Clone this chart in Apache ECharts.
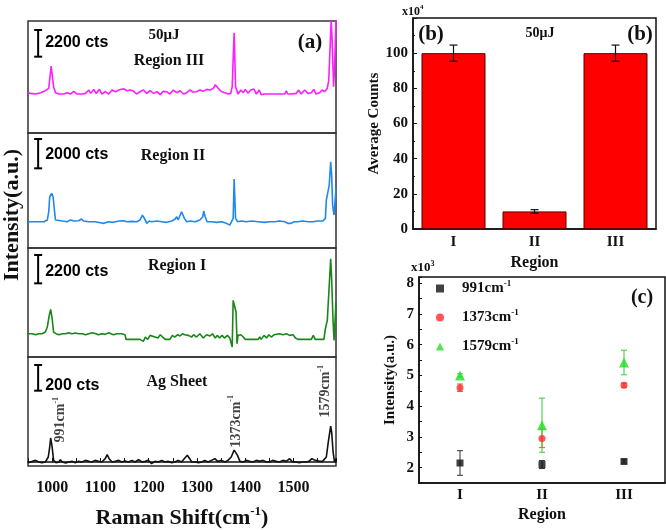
<!DOCTYPE html>
<html>
<head>
<meta charset="utf-8">
<script src="https://cdn.jsdelivr.net/npm/echarts@6/dist/echarts.min.js"></script>
<style>html,body{margin:0;padding:0;background:#fff}#main{width:666px;height:530px}</style>
</head>
<body>
<div id="main"></div>
<script>
// (a) spectra: Raman shift (cm-1) and counts relative to each trace's baseline
var shift3 = [950,955,966,976,986,993,998,1003,1007,1014,1024,1031,1038,1045,1052,1062,1069,1076,1080,1086,1091,1098,1103,1110,1117,1124,1131,1138,1148,1155,1162,1169,1175,1182,1189,1196,1203,1210,1217,1224,1230,1237,1244,1251,1258,1265,1272,1279,1285,1292,1299,1306,1313,1320,1327,1334,1338,1344,1351,1358,1365,1370,1373,1377,1380,1385,1391,1396,1400,1406,1411,1418,1423,1429,1433,1440,1451,1461,1475,1482,1485,1488,1495,1506,1510,1516,1523,1530,1537,1542,1547,1554,1559,1564,1570,1573,1577,1578,1580,1583,1585,1588];
var counts3 = [0,-55,-110,0,165,357,2200,495,0,-110,-110,0,-110,110,-110,-110,-55,220,-55,275,-55,275,-110,82,-110,220,82,220,330,165,220,110,-110,82,220,-55,165,-55,82,-165,110,82,-110,220,0,165,-110,0,220,55,82,220,110,275,220,357,660,357,82,0,-110,-55,495,4950,495,-110,220,0,275,-55,220,302,-110,220,-165,-110,-110,-110,-110,-110,165,-110,-110,-55,220,-110,220,-55,0,275,-110,0,220,82,357,1045,4895,6000,4345,495,2000,6000];

var shift2 = [950,959,972,983,990,993,995,999,1002,1005,1007,1010,1021,1031,1038,1041,1045,1055,1061,1065,1076,1089,1100,1107,1117,1127,1138,1148,1155,1165,1175,1182,1187,1189,1193,1196,1201,1206,1217,1227,1237,1248,1255,1258,1261,1265,1268,1271,1274,1279,1286,1296,1306,1312,1314,1317,1321,1330,1341,1351,1361,1368,1372,1375,1377,1380,1384,1392,1402,1413,1427,1440,1451,1461,1471,1482,1488,1492,1495,1501,1509,1519,1530,1540,1550,1561,1566,1568,1571,1574,1577,1579,1581,1584,1588];
var counts2 = [0,0,0,0,114,681,1702,1930,1702,681,114,0,45,0,114,227,45,68,182,45,0,0,-68,-114,0,-45,45,68,0,23,0,114,454,500,114,-114,45,0,45,0,-45,45,182,340,114,227,681,727,227,0,45,0,114,340,727,340,0,0,-45,0,-114,-227,-340,227,2906,227,0,45,0,45,0,-45,0,0,45,0,-114,-227,-114,0,0,45,0,0,45,45,227,1476,1589,2497,4086,3178,1135,454,2270];

var shift1 = [950,952,959,966,972,979,986,990,994,997,1000,1003,1008,1014,1021,1028,1034,1041,1048,1055,1062,1069,1076,1083,1086,1091,1096,1103,1110,1117,1122,1127,1134,1144,1151,1153,1162,1172,1182,1186,1189,1193,1198,1203,1206,1213,1219,1224,1234,1244,1249,1254,1260,1265,1270,1275,1282,1289,1293,1299,1306,1313,1320,1327,1332,1338,1342,1347,1352,1357,1363,1368,1371,1373,1375,1378,1381,1383,1385,1391,1396,1400,1406,1413,1420,1427,1430,1433,1439,1444,1449,1454,1460,1464,1471,1478,1485,1492,1499,1504,1509,1519,1530,1537,1541,1545,1550,1557,1563,1566,1570,1573,1577,1579,1582,1584,1588];
var counts1 = [0,-78,0,-78,0,0,130,518,1425,1891,1166,130,0,-78,0,0,78,0,52,0,0,-78,0,78,-26,0,-78,0,-52,78,0,-78,0,0,-78,-440,-440,-440,-440,-337,-596,-259,-440,-130,-78,-259,-337,-78,-440,-440,-130,-259,-78,-181,0,-78,-130,-259,-78,-259,0,-337,-78,-181,0,-337,-130,-337,-130,-337,-130,-337,-389,-1036,2590,2460,1684,-778,-130,-78,-259,-440,-440,-440,-440,-440,-259,-440,-130,-337,-78,-259,-78,-130,0,-78,0,-130,-78,-337,-440,-440,-440,-440,-130,-440,-440,-440,-440,389,1036,1036,5827,4273,907,-518,2460];

var shiftAg = [950,952,959,966,972,979,986,992,995,997,1000,1003,1008,1014,1017,1021,1028,1034,1041,1048,1055,1062,1069,1076,1082,1089,1096,1103,1110,1114,1118,1124,1131,1138,1144,1151,1158,1165,1172,1179,1186,1193,1199,1206,1213,1220,1227,1234,1240,1248,1254,1261,1268,1275,1280,1285,1289,1296,1303,1310,1316,1323,1330,1337,1343,1347,1351,1358,1364,1371,1377,1384,1389,1396,1402,1409,1416,1423,1430,1437,1444,1450,1457,1464,1471,1478,1485,1492,1498,1505,1512,1519,1526,1532,1538,1545,1554,1560,1568,1572,1577,1579,1582,1585,1588];
var countsAg = [-5,0,5,13,0,-5,0,39,117,187,117,13,-5,0,18,0,-8,0,5,-5,5,0,13,5,0,13,5,0,26,57,26,0,5,13,0,8,0,13,0,18,0,5,13,-13,5,0,13,0,5,-5,0,13,0,31,52,26,0,0,-5,0,13,0,13,26,5,0,13,0,13,39,93,52,5,0,13,5,0,13,5,13,0,0,13,5,0,13,5,26,0,0,-5,0,0,5,26,13,5,5,39,155,280,233,78,0,26];

// scale bars: [shift, low, high] and their labels
var scaleBars = [[971, 2973, 5173], [971, 3640, 5640], [971, 3915, 6115], [971, 555, 755]];
var scaleText = ['2200 cts', '2000 cts', '2200 cts', '200 cts'];

// peak labels on the Ag sheet trace
var noteShift = [1018, 1381, 1567];
var noteCounts = [148, 109, 342];
var noteText = ['991cm', '1373cm', '1579cm'];

// (b) average counts (x10^4)
var regions = ['I', 'II', 'III'];
var avgCounts = [100, 10, 100];
var avgErr = [4.6, 1, 4.6];

// (c) peak intensity (x10^3)
var peakNames = ['991cm-1', '1373cm-1', '1579cm-1'];
var v991 = [2.15, 2.1, 2.2];
var e991 = [0.4, 0.13, 0.05];
var v1373 = [4.6, 2.95, 4.68];
var e1373 = [0.12, 0.3, 0.07];
var v1579 = [5.0, 3.38, 5.42];
var e1579 = [0.05, 0.88, 0.4];

var serif = '"Liberation Serif", "Times New Roman", serif';
var sans = '"Liberation Sans", Arial, sans-serif';
var ink = '#111';

function rich(size) {
  return {
    a: {fontFamily: serif, fontWeight: 'bold', fontSize: size, lineHeight: size + 4, color: ink},
    s: {fontFamily: serif, fontWeight: 'bold', fontSize: Math.round(size * 0.6), verticalAlign: 'top', color: ink}
  };
}
function zip(xs, ys) { return xs.map(function (x, i) { return [x, ys[i]]; }); }

var stackTop = [21, 133, 248, 357];
var stackHeight = [112, 115, 109, 109];
var yRange = [[-3325, 5915], [-1795, 6050], [-1810, 6660], [-31, 817]];
var traces = [[shift3, counts3], [shift2, counts2], [shift1, counts1], [shiftAg, countsAg]];
var traceColor = ['#ff1cff', '#1f88ee', '#1a861a', '#111'];

var grids = [], xAxes = [], yAxes = [], series = [];
stackTop.forEach(function (t, i) {
  grids.push({left: 28, width: 308, top: t, height: stackHeight[i], show: true,
    borderColor: '#333', borderWidth: 1.5, outerBoundsMode: 'none'});
  var last = i === 3;
  xAxes.push({
    type: 'value', gridIndex: i, min: 950, max: 1588, interval: 50, show: last,
    axisLine: {show: last, lineStyle: {color: ink, width: 1.5}},
    axisTick: {show: last, inside: true, length: 4, lineStyle: {color: ink}},
    splitLine: {show: false},
    axisLabel: {show: last, margin: 14, color: ink, fontFamily: serif, fontWeight: 'bold', fontSize: 16,
      formatter: function (v) { return v % 100 === 0 ? String(v) : ''; }},
    name: last ? '{a|Raman Shift(cm}{s|-1}{a|)}' : '',
    nameLocation: 'middle', nameGap: 39,
    nameTextStyle: {rich: rich(22)}
  });
  yAxes.push({type: 'value', gridIndex: i, min: yRange[i][0], max: yRange[i][1], show: false, splitLine: {show: false}});
  series.push({
    type: 'line', xAxisIndex: i, yAxisIndex: i, data: zip(traces[i][0], traces[i][1]),
    showSymbol: false, symbol: 'none', lineStyle: {color: traceColor[i], width: 1.6}, clip: true, z: 3
  });
});

function makeScaleBar(label, dy) {
  return function (params, api) {
    var hi = api.coord([api.value(0), api.value(2)]);
    var lo = api.coord([api.value(0), api.value(1)]);
    var x = hi[0], s = {stroke: '#000', lineWidth: 2};
    return {type: 'group', children: [
      {type: 'line', shape: {x1: x, y1: hi[1], x2: x, y2: lo[1]}, style: s},
      {type: 'line', shape: {x1: x - 4, y1: hi[1], x2: x + 4, y2: hi[1]}, style: s},
      {type: 'line', shape: {x1: x - 4, y1: lo[1], x2: x + 4, y2: lo[1]}, style: s},
      {type: 'text', x: x + 7, y: (hi[1] + lo[1]) / 2 + dy, style: {text: label, fill: '#000',
        font: 'bold 16px ' + sans, align: 'left', verticalAlign: 'middle', textAlign: 'left', textVerticalAlign: 'middle'}}
    ]};
  };
}
var labelShift = [-1, 1, 2, 8];
scaleBars.forEach(function (b, i) {
  series.push({type: 'custom', xAxisIndex: i, yAxisIndex: i, data: [b], renderItem: makeScaleBar(scaleText[i], labelShift[i]), z: 4, silent: true});
});

series.push({
  type: 'scatter', xAxisIndex: 3, yAxisIndex: 3, symbolSize: 1, itemStyle: {color: 'rgba(0,0,0,0)'},
  data: noteShift.map(function (x, i) { return {value: [x, noteCounts[i]], name: noteText[i]}; }),
  label: {show: true, position: 'top', distance: 0, rotate: 90, align: 'left', verticalAlign: 'middle',
    formatter: function (p) { return '{a|' + p.name + '}{s|-1}'; }, rich: rich(14)},
  labelLayout: {hideOverlap: false},
  z: 5, silent: true
});

// (b) bar panel
grids.push({left: 413, top: 18, width: 243, height: 211, show: true, borderColor: ink, borderWidth: 1.5, outerBoundsMode: 'none'});
// (c) scatter panel
grids.push({left: 419, top: 277, width: 246, height: 206, show: true, borderColor: ink, borderWidth: 1.5, outerBoundsMode: 'none'});

[4, 5].forEach(function (g) {
  xAxes.push({
    type: 'category', gridIndex: g, data: regions,
    axisLine: {lineStyle: {color: ink, width: 1.5}},
    axisTick: {inside: true, length: 4, lineStyle: {color: ink}},
    axisLabel: {margin: g === 4 ? 6 : 5, color: ink, fontFamily: serif, fontWeight: 'bold', fontSize: 15},
    name: 'Region', nameLocation: 'middle', nameGap: g === 4 ? 26 : 24,
    nameTextStyle: {color: ink, fontFamily: serif, fontWeight: 'bold', fontSize: 16}
  });
});
yAxes.push({
  type: 'value', gridIndex: 4, min: 0, max: 120, interval: 20,
  axisLine: {show: true, lineStyle: {color: ink, width: 1.5}},
  axisTick: {show: true, inside: true, length: 4, lineStyle: {color: ink}},
  minorTick: {show: true, splitNumber: 2, length: 2, lineStyle: {color: ink}},
  splitLine: {show: false},
  axisLabel: {margin: 5, color: ink, fontFamily: serif, fontWeight: 'bold', fontSize: 15,
    formatter: function (v) { return v >= 120 ? '' : String(v); }},
  name: 'Average Counts', nameLocation: 'middle', nameGap: 22,
  nameTextStyle: {color: ink, fontFamily: serif, fontWeight: 'bold', fontSize: 15}
});
yAxes.push({
  type: 'value', gridIndex: 5, min: 1.5, max: 8.2, interval: 0.5,
  axisLine: {show: true, lineStyle: {color: ink, width: 1.5}},
  axisTick: {show: true, inside: true, length: 3, lineStyle: {color: ink}},
  splitLine: {show: false},
  axisLabel: {margin: 5, color: ink, fontFamily: serif, fontWeight: 'bold', fontSize: 15,
    formatter: function (v) { return Math.abs(v - Math.round(v)) < 1e-6 ? String(Math.round(v)) : ''; }},
  name: 'Intensity(a.u.)', nameLocation: 'middle', nameGap: 21,
  nameTextStyle: {color: ink, fontFamily: serif, fontWeight: 'bold', fontSize: 15}
});

function errorBar(color, cap, width) {
  return function (params, api) {
    var hi = api.coord([api.value(0), api.value(2)]);
    var lo = api.coord([api.value(0), api.value(1)]);
    var s = {stroke: color, lineWidth: width};
    return {type: 'group', children: [
      {type: 'line', shape: {x1: hi[0], y1: hi[1], x2: lo[0], y2: lo[1]}, style: s},
      {type: 'line', shape: {x1: hi[0] - cap, y1: hi[1], x2: hi[0] + cap, y2: hi[1]}, style: s},
      {type: 'line', shape: {x1: lo[0] - cap, y1: lo[1], x2: lo[0] + cap, y2: lo[1]}, style: s}
    ]};
  };
}
function errData(v, e) { return v.map(function (y, i) { return [i, y - e[i], y + e[i]]; }); }

series.push({type: 'bar', xAxisIndex: 4, yAxisIndex: 4, data: avgCounts, barWidth: 64,
  itemStyle: {color: '#ff0000', borderColor: '#5a0000', borderWidth: 1}, z: 2});
series.push({type: 'custom', xAxisIndex: 4, yAxisIndex: 4, data: errData(avgCounts, avgErr),
  renderItem: errorBar('#111', 4, 1.2), z: 5, silent: true});

var peakVals = [v991, v1373, v1579], peakErrs = [e991, e1373, e1579];
var peakColor = ['#111', '#ff2a2a', '#22e022'];
var errColor = ['#333', '#e0502a', '#33cc33'];
var peakSymbol = ['rect', 'circle', 'triangle'];
var peakSize = [7, 7, 10];
peakVals.forEach(function (v, k) {
  series.push({type: 'custom', xAxisIndex: 5, yAxisIndex: 5, data: errData(v, peakErrs[k]),
    renderItem: errorBar(errColor[k], 3, 1), z: 3, silent: true});
});
peakVals.forEach(function (v, k) {
  series.push({type: 'scatter', name: peakNames[k], xAxisIndex: 5, yAxisIndex: 5, data: v,
    symbol: peakSymbol[k], symbolSize: peakSize[k], itemStyle: {color: peakColor[k]}, z: 4});
});

function gtext(x, y, text, size, align, extra) {
  var el = {type: 'text', x: x, y: y, silent: true,
    style: {text: text, rich: rich(size), fill: ink,
      font: 'bold ' + size + 'px ' + serif,
      align: align || 'center', textAlign: align || 'center',
      verticalAlign: 'middle', textVerticalAlign: 'middle'}};
  if (extra) for (var k in extra) el[k] = extra[k];
  return el;
}

var option = {
  animation: false,
  backgroundColor: '#fff',
  grid: grids,
  xAxis: xAxes,
  yAxis: yAxes,
  legend: {
    left: 436, top: 279, padding: 0, orient: 'vertical', itemWidth: 8, itemHeight: 8, itemGap: 12,
    selectedMode: false, data: peakNames,
    formatter: function (n) { return '{a|' + n.replace('-1', '') + '}{s|-1}'; },
    textStyle: {padding: [0, 0, 0, 13], rich: rich(15)}
  },
  graphic: [
    gtext(164, 35, '{a|50μJ}', 15),
    gtext(169, 61, '{a|Region III}', 16),
    gtext(310, 43, '{a|(a)}', 21),
    gtext(173, 156, '{a|Region II}', 16),
    gtext(177, 266, '{a|Region I}', 16),
    gtext(177, 382, '{a|Ag Sheet}', 16),
    gtext(12, 215, '{a|Intensity(a.u.)}', 22, 'center', {rotation: Math.PI / 2}),
    gtext(402, 12, '{a|x10}{s|4}', 12, 'left'),
    gtext(431, 35, '{a|(b)}', 21),
    gtext(640, 35, '{a|(b)}', 21),
    gtext(540, 33, '{a|50μJ}', 14),
    gtext(411, 268, '{a|x10}{s|3}', 13, 'left'),
    gtext(642, 298, '{a|(c)}', 20)
  ],
  series: series
};

var chart = echarts.init(document.getElementById('main'));
chart.setOption(option);
</script>
</body>
</html>
